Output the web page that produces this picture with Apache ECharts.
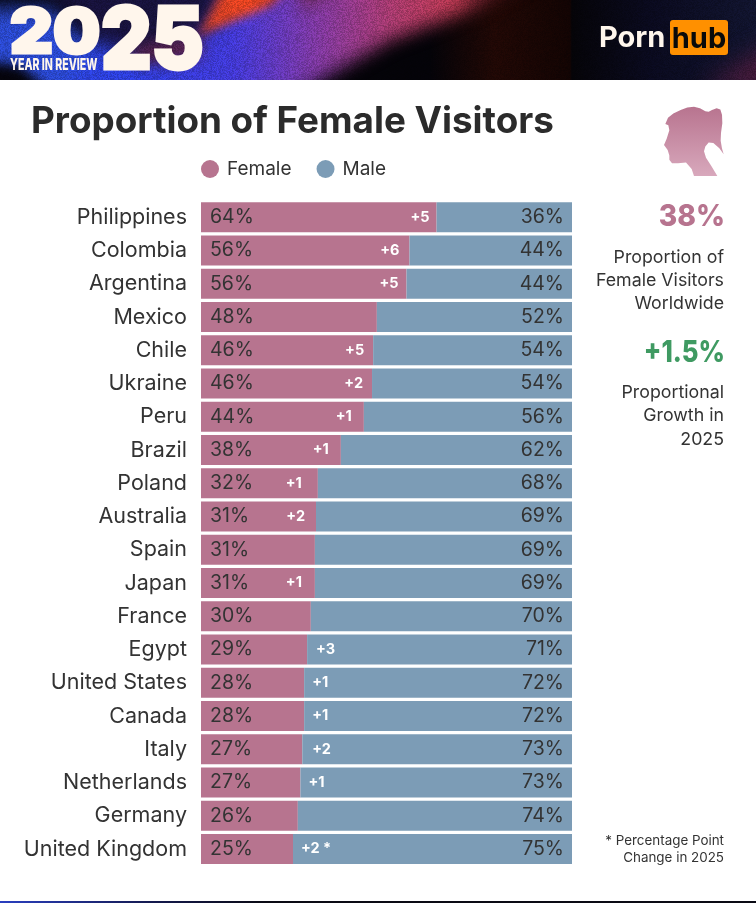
<!DOCTYPE html>
<html>
<head>
<meta charset="utf-8">
<title>Proportion of Female Visitors</title>
<style>
html,body{margin:0;padding:0;background:#fff;}
#main{width:756px;height:903px;}
</style>
<script src="https://cdn.jsdelivr.net/npm/echarts@6/dist/echarts.min.js"></script>
</head>
<body>
<div id="main"></div>
<script>
var countries = ['Philippines','Colombia','Argentina','Mexico','Chile','Ukraine','Peru','Brazil','Poland','Australia','Spain','Japan','France','Egypt','United States','Canada','Italy','Netherlands','Germany','United Kingdom'];
// bar lengths, the printed numbers are rounded
var femaleShare = [63.5,56.2,55.4,47.4,46.4,46.1,43.9,37.7,31.5,31,30.7,30.7,29.6,28.6,27.8,27.8,27.3,26.8,26.1,24.8];
var maleShare = [36.5,43.8,44.6,52.6,53.6,53.9,56.1,62.3,68.5,69,69.3,69.3,70.4,71.4,72.2,72.2,72.7,73.2,73.9,75.2];
var femaleLabels = [64,56,56,48,46,46,44,38,32,31,31,31,30,29,28,28,27,27,26,25];
var maleLabels = [36,44,44,52,54,54,56,62,68,69,69,69,70,71,72,72,73,73,74,75];
var pointChange = ['+5','+6','+5','','+5','+2','+1','+1','+1','+2','','+1','','+3','+1','+1','+2','+1','','+2 *'];

var FEMALE = '#b7748f', MALE = '#7c9cb6', INK = '#333333';
var FONT = 'Inter';
// space between each change label and the split, it is not the same on every row
var changeGaps = [7,10,8,0,9,9,12,12,16,11,0,13,0,9,8,8,10,8,0,8];

/*banner artwork, drawn once on a canvas and handed to echarts as an image*/
function makeBanner(){
    var c = document.createElement('canvas');
    c.width = 756; c.height = 80;
    var g = c.getContext('2d');
    function poly(pts, fill, blur){
        g.filter = 'blur(' + blur + 'px)';
        g.fillStyle = fill;
        g.beginPath();
        pts.forEach(function(p, i){ i ? g.lineTo(p[0], p[1]) : g.moveTo(p[0], p[1]); });
        g.closePath();
        g.fill();
        g.filter = 'none';
    }
    g.fillStyle = '#040308';
    g.fillRect(0, 0, 756, 80);

    // right side
    var r = g.createLinearGradient(430, 0, 756, 0);
    r.addColorStop(0, '#040308');
    r.addColorStop(0.2, '#200805');
    r.addColorStop(0.43, '#120403');
    r.addColorStop(0.435, '#050408');
    r.addColorStop(0.68, '#0a0a1e');
    r.addColorStop(1, '#11142e');
    g.fillStyle = r;
    g.fillRect(430, 0, 326, 80);
    poly([[700,90],[780,40],[780,90]], '#4a1a3a', 12);

    // main diagonal band
    var b = g.createLinearGradient(120, 0, 500, 0);
    b.addColorStop(0, '#2c3fd8');
    b.addColorStop(0.3, '#4038d2');
    b.addColorStop(0.5, '#7a38a4');
    b.addColorStop(0.72, '#a83a6c');
    b.addColorStop(0.88, '#b83850');
    b.addColorStop(1, '#3c1016');
    poly([[30,100],[285,100],[390,40],[470,10],[530,-20],[200,-20],[40,60]], b, 9);

    // left blue side and the dark corners
    poly([[-30,8],[55,8],[95,50],[60,100],[-30,58]], '#2a48cc', 10);
    poly([[-30,62],[20,66],[60,100],[-30,100]], '#05040c', 6);
    poly([[40,-20],[240,-20],[205,34],[150,60],[95,42]], '#17123c', 10);
    poly([[120,50],[200,34],[200,58],[140,62]], '#5a2040', 8);

    // orange streak
    var o = g.createLinearGradient(200, 34, 290, 0);
    o.addColorStop(0, '#c03a24');
    o.addColorStop(0.6, '#e84420');
    o.addColorStop(1, '#a83020');
    poly([[198,36],[270,6],[292,-15],[225,-15]], o, 5);
    poly([[295,-20],[345,-20],[305,12]], '#6a2a5c', 8);

    // grain, a fixed hash so every run draws the same texture
    var img = g.getImageData(0, 0, 756, 80), d = img.data;
    for (var i = 0; i < d.length; i += 4){
        var h = Math.sin(i * 12.9898) * 43758.5453;
        var n = ((h - Math.floor(h)) - 0.5) * 0.3;
        d[i] = Math.min(255, d[i] * (1 + n));
        d[i+1] = Math.min(255, d[i+1] * (1 + n));
        d[i+2] = Math.min(255, d[i+2] * (1 + n));
    }
    g.putImageData(img, 0, 0);
    return c;
}

function txt(text, x, y, size, weight, color, align, family, extra, stroke){
    var el = {
        type: 'text', x: x, y: y, silent: true,
        style: {
            text: text, fill: color,
            font: weight + ' ' + size + 'px "' + (family || FONT) + '"',
            textAlign: align || 'left', textVerticalAlign: 'middle'
        }
    };
    if (stroke) { el.style.stroke = color; el.style.lineWidth = stroke; }
    if (extra) { for (var k in extra) el[k] = extra[k]; }
    return el;
}

// head silhouette outline, in crop pixels of the icon
var headPoints = [[46,74],[54,56],[70,44],[92,34],[112,27],[132,25],[150,29],[166,38],[176,39],[186,34],[200,29],[211,33],[216,48],[217,72],[213,100],[212,122],[216,144],[221,160],[208,143],[190,128],[176,127],[166,138],[162,152],[168,170],[184,194],[202,222],[132,222],[125,202],[108,184],[84,186],[66,186],[58,176],[58,164],[53,148],[42,134],[50,116],[58,92],[55,78]];

var graphics = [
    {type:'image', x:0, y:0, silent:true, style:{image:makeBanner(), x:0, y:0, width:756, height:80}},
    // 2025 lockup
    txt('20', 10, 34, 62, 900, '#fff6ec', 'left', FONT, {scaleX:1.07, originX:0, originY:0}, 3),
    txt('25', 101, 43, 87, 900, '#fff6ec', 'left', FONT, {scaleX:0.9, originX:0, originY:0}, 3),
    txt('YEAR IN REVIEW', 10, 65, 16, 800, '#fff6ec', 'left', FONT, {scaleX:0.66, originX:0, originY:0}),
    // logo
    txt('Porn', 599, 38, 29, 700, '#fff6ec', 'left'),
    {type:'rect', silent:true, shape:{x:670, y:20, width:58, height:35, r:3}, style:{fill:'#ff9000'}},
    txt('hub', 699, 39, 29, 700, '#0a0a0a', 'center'),
    // title
    txt('Proportion of Female Visitors', 31, 122, 36.8, 700, '#2b2b2b', 'left'),
    // head icon
    {type:'polygon', silent:true, x:650, y:98, scaleX:1/3, scaleY:1/2.85,
        shape:{points:headPoints},
        style:{fill:{type:'linear', x:0, y:0, x2:0, y2:1, colorStops:[{offset:0, color:'#b8748f'},{offset:1, color:'#d8a8bc'}]}}},
    // side panel
    txt('38%', 725, 217, 30, 800, FEMALE, 'right', FONT, {scaleX:0.94, originX:0, originY:0}),
    txt('Proportion of', 724, 258, 17.8, 400, INK, 'right'),
    txt('Female Visitors', 724, 281, 17.8, 400, INK, 'right'),
    txt('Worldwide', 724, 304, 17.8, 400, INK, 'right'),
    txt('+1.5%', 725, 353, 30, 800, '#3f9a62', 'right', FONT, {scaleX:0.857, originX:0, originY:0}),
    txt('Proportional', 724, 393, 17.8, 400, INK, 'right'),
    txt('Growth in', 724, 416, 17.8, 400, INK, 'right'),
    txt('2025', 724, 440, 17.8, 400, INK, 'right'),
    txt('* Percentage Point', 724, 841, 13.4, 400, INK, 'right'),
    txt('Change in 2025', 724, 858, 13.4, 400, INK, 'right'),
    // strip at the very bottom
    {type:'rect', silent:true, shape:{x:0, y:901, width:756, height:2},
        style:{fill:{type:'linear', x:0, y:0, x2:1, y2:0, colorStops:[{offset:0, color:'#2a3fc0'},{offset:0.2, color:'#141a50'},{offset:0.35, color:'#0a0a14'},{offset:1, color:'#0a0a14'}]}}}
];

var myChart = echarts.init(document.getElementById('main'));

var option = {
    animation: false,
    backgroundColor: '#fff',
    textStyle: {fontFamily: FONT},
    legend: {
        data: ['Female','Male'],
        left: 201, top: 159.5, padding: 0,
        icon: 'circle',
        itemWidth: 18, itemHeight: 18, itemGap: 25,
        selectedMode: false,
        textStyle: {fontSize: 19, color: INK, fontFamily: FONT, padding: [0,0,0,3]}
    },
    grid: [
        {left: 201, top: 200.7, width: 371, height: 665},
        {left: 201, top: 200.7, width: 371, height: 665}
    ],
    xAxis: [
        {type:'value', min:0, max:100, show:false, gridIndex:0},
        {type:'value', min:0, max:100, show:false, gridIndex:1}
    ],
    yAxis: [
        {type:'category', data:countries, inverse:true, gridIndex:0,
            axisLine:{show:false}, axisTick:{show:false}, splitLine:{show:false},
            axisLabel:{margin:14, fontSize:21.5, color:INK, fontFamily:FONT, padding:[4,0,0,0]}},
        {type:'category', data:countries, inverse:true, gridIndex:1, show:false}
    ],
    series: [
        {
            name:'Female', type:'bar', stack:'share', barWidth:30,
            data: femaleShare,
            itemStyle:{color:FEMALE},
            label:{show:true, position:'insideLeft', distance:9, fontSize:19.5, color:INK, padding:[4,0,0,0],
                formatter:function(p){ return femaleLabels[p.dataIndex] + '%'; }}
        },
        {
            name:'Male', type:'bar', stack:'share', barWidth:30,
            data: maleShare,
            itemStyle:{color:MALE},
            label:{show:true, position:'insideRight', distance:8, fontSize:19.5, color:INK, padding:[4,0,0,0],
                formatter:function(p){ return maleLabels[p.dataIndex] + '%'; }}
        },
        {
            // invisible bars that only carry the change labels next to the split
            name:'Change', type:'bar', xAxisIndex:1, yAxisIndex:1, barWidth:30, z:5,
            silent:true,
            itemStyle:{color:'transparent'},
            data: femaleShare.map(function(v, i){
                if (!pointChange[i]) return null;
                return {value:v, label:{show:true, position: i >= 13 ? 'right' : 'insideRight', distance:changeGaps[i],
                    formatter:pointChange[i], fontSize:14.5, fontWeight:700, color:'#fff'}};
            })
        }
    ],
    graphic: graphics
};

myChart.setOption(option);
</script>
</body>
</html>
